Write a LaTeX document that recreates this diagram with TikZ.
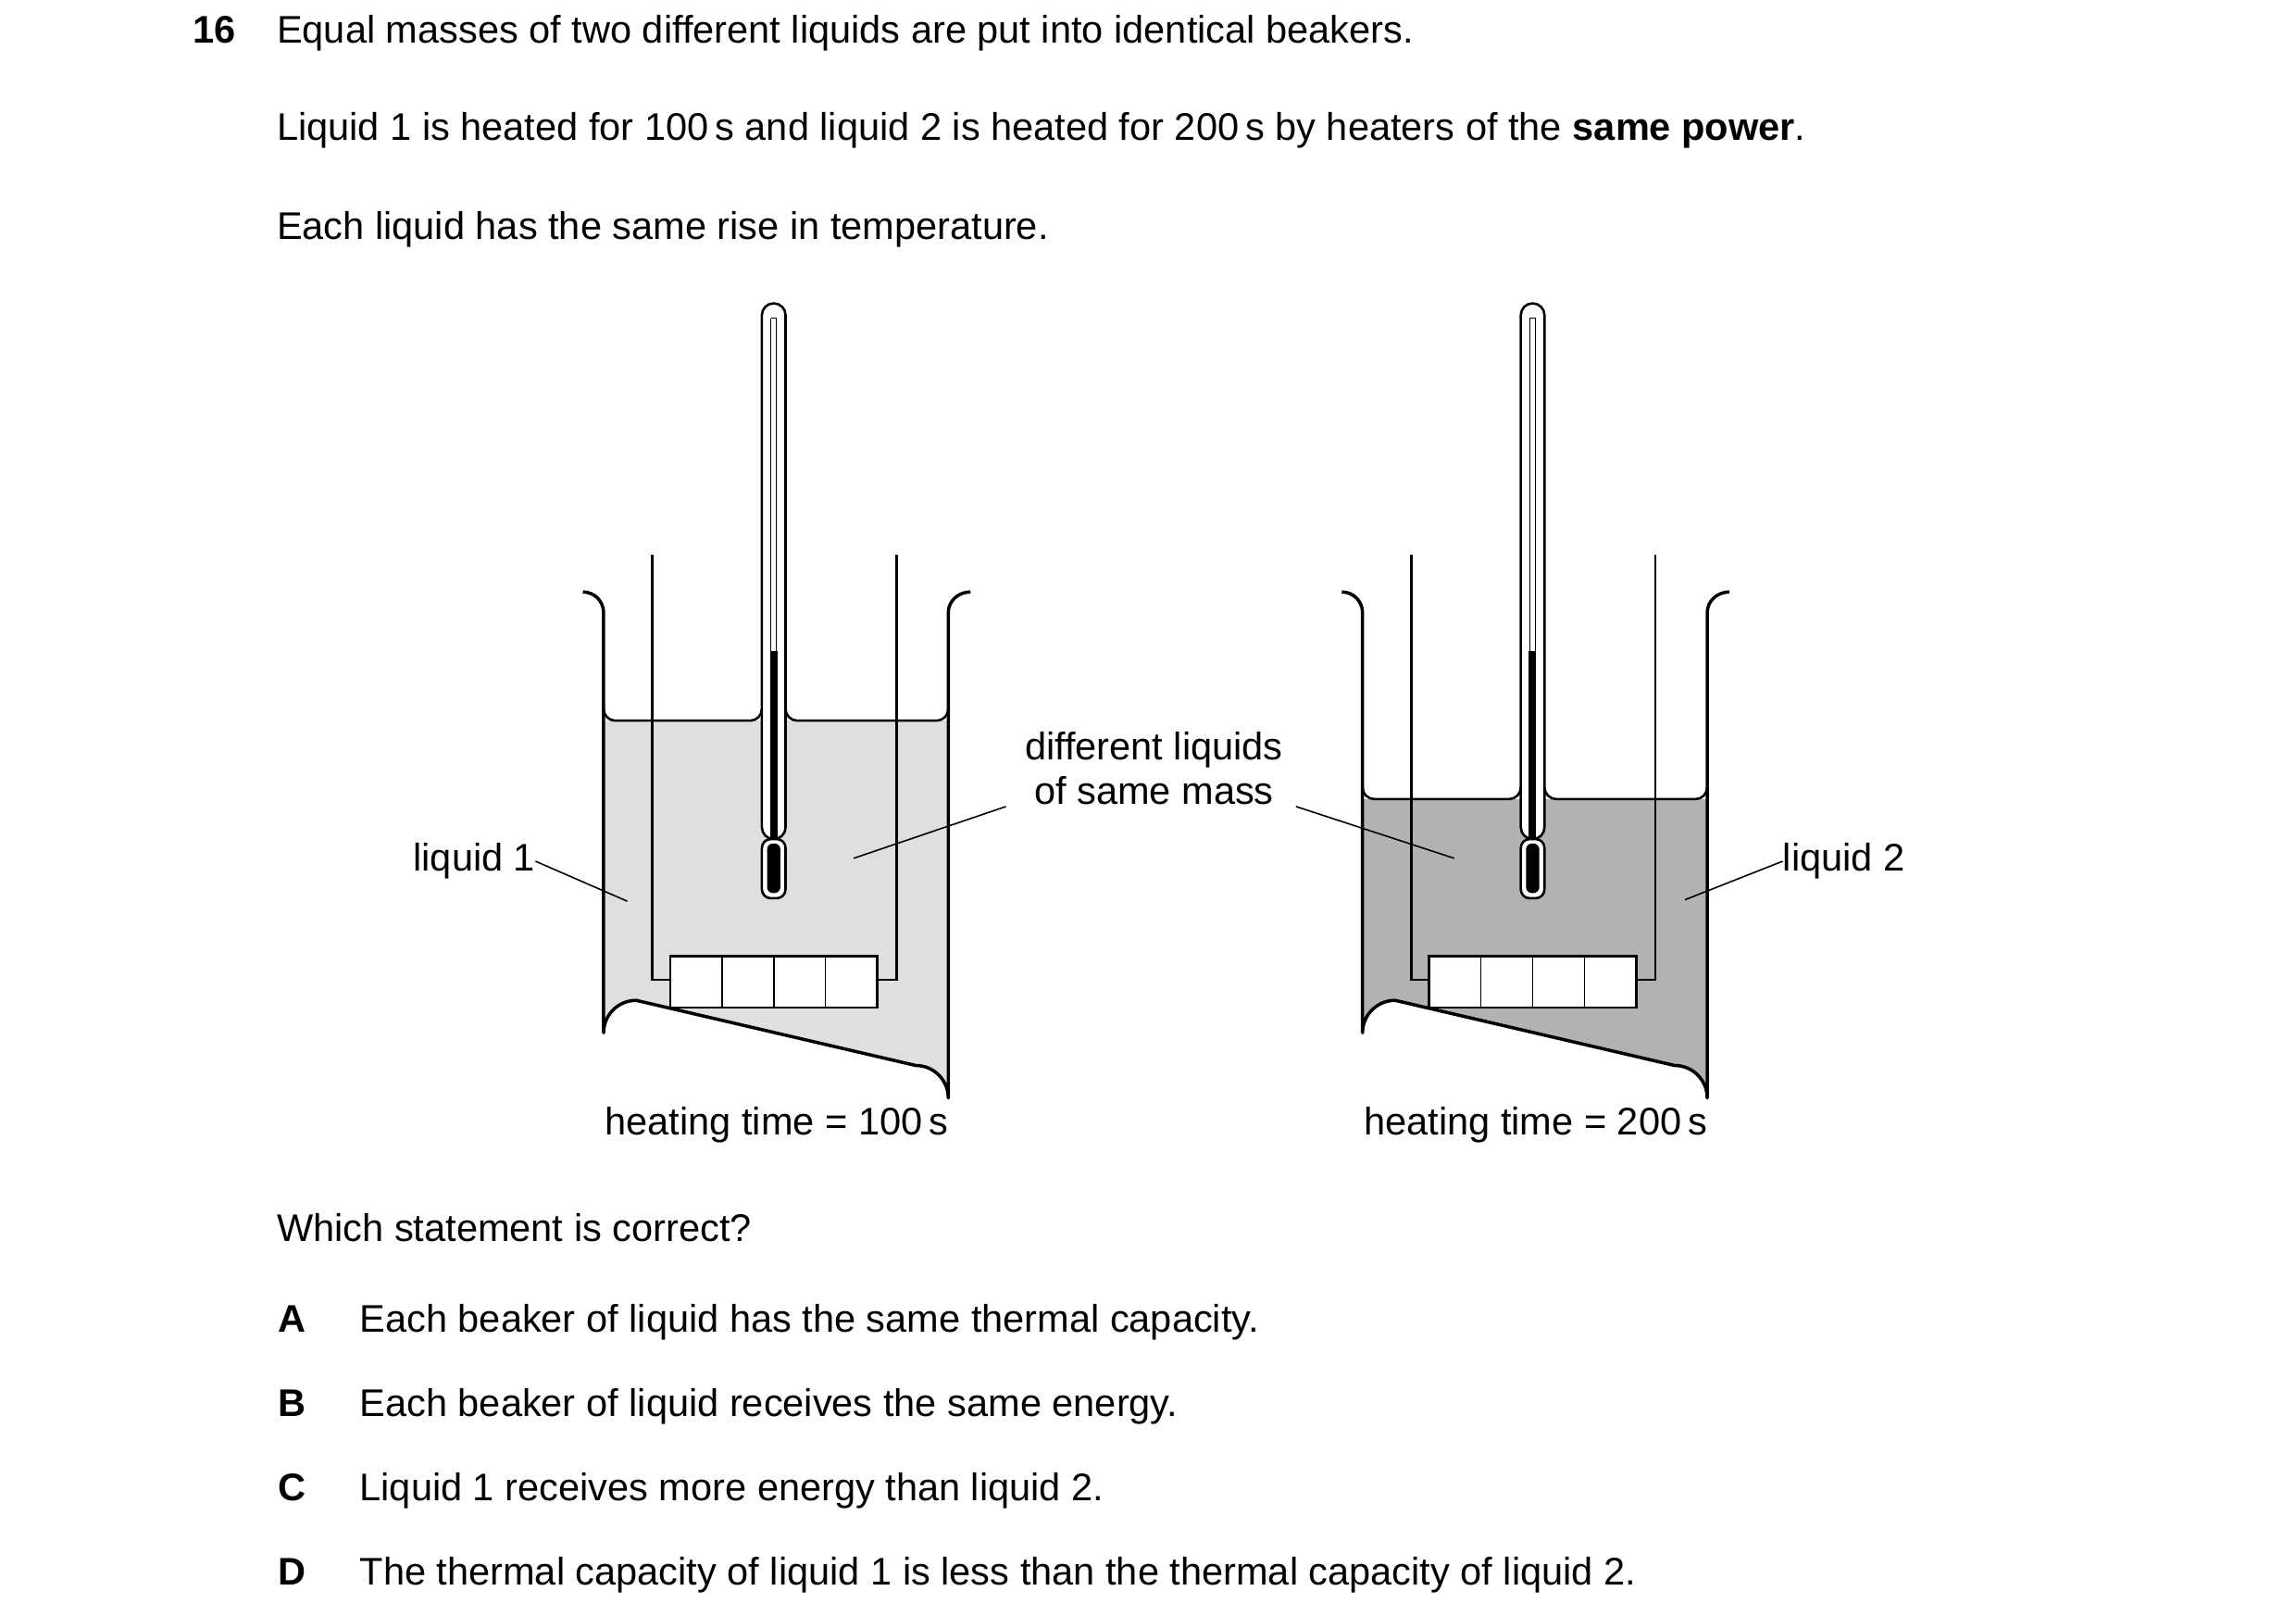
\documentclass[tikz,border=0pt]{standalone}
\usepackage{fontspec}
\setmainfont{Liberation Sans}
\tikzset{
  txt/.style = {anchor=base west, inner sep=0pt, font=\fontsize{26}{30}\selectfont},
  lbl/.style = {inner sep=0pt, font=\fontsize{26}{30}\selectfont},
  wall/.style = {line width=2.2pt, line join=round},
  lead/.style = {line width=1pt},
}
\newcommand{\beaker}[3]{%
  \begin{scope}[xshift=#1]
    \fill[#3] (408,#2) -- (408,698) arc[start angle=180,end angle=270,radius=22] -- (619,720)
      arc[start angle=270,end angle=360,radius=22] -- (641,#2) -- cycle;
    \draw[line width=1.6pt] (408,#2-8) to[out=-90,in=180] (416,#2) -- (507,#2) to[out=0,in=-90] (515,#2-8);
    \draw[line width=1.6pt] (531,#2-8) to[out=-90,in=180] (539,#2) -- (633,#2) to[out=0,in=-90] (641,#2-8);
    \draw[wall] (394,400) to[out=0,in=90] (408,414) -- (408,698) arc[start angle=180,end angle=270,radius=22]
      -- (619,720) arc[start angle=270,end angle=360,radius=22] -- (641,414) to[out=90,in=180] (656,400);
    \draw[line width=1.6pt] (441,375) -- (441,662) -- (453,662);
    \draw[line width=1.6pt] (606,375) -- (606,662) -- (593,662);
    \draw[line width=1.6pt,fill=white] (453,646) rectangle (593,681);
    \foreach \d in {488,523,558} \draw[line width=1pt] (\d,646) -- (\d,681);
    \draw[line width=1.6pt,fill=white,rounded corners=7.9pt] (515,567) rectangle (531,205);
    \draw[line width=0.6pt] (521,215) -- (521,440) (525,215) -- (525,440) (521,215) -- (525,215);
    \fill (520.5,440) rectangle (525.5,567);
    \draw[line width=1.6pt,fill=white,rounded corners=6pt] (515,567) rectangle (531,607);
    \fill[rounded corners=4pt] (518.5,570) rectangle (527.5,603.5);
  \end{scope}}
\begin{document}
\begin{tikzpicture}[x=1pt,y=-1pt]
\useasboundingbox (0,0) rectangle (1552,1092);

\node[txt,font=\fontsize{26}{30}\selectfont\bfseries] (num) at (130,29) {16};
\node[txt] (l1) at (187,29) {Equal masses of two different liquids are put into identical beakers.};
\node[txt] (l2) at (187,95) {Liquid 1 is heated for 100\,s and liquid 2 is heated for 200\,s by heaters of the \textbf{same power}.};
\node[txt] (l3) at (187,162) {Each liquid has the same rise in temperature.};

\beaker{0}{487}{gray!25}
\beaker{513}{540}{gray!60}

\node[lbl,anchor=east] (liq1) at (362,582) {liquid 1};
\node[lbl,anchor=west] (liq2) at (1205,582) {liquid 2};
\node[lbl,align=center] (diff) at (780,519) {different liquids\\of same mass};
\coordinate (p1) at (424,609);
\coordinate (p2) at (577,580);
\coordinate (p3) at (983,580);
\coordinate (p4) at (1139,608);
\draw[lead] (liq1.east) -- (p1);
\draw[lead] (liq2.west) -- (p4);
\draw[lead] (680,545) -- (p2);
\draw[lead] (876,545) -- (p3);

\node[lbl] (t1) at (525,760) {heating time = 100\,s};
\node[lbl] (t2) at (1038,760) {heating time = 200\,s};

\node[txt] (q) at (187,839) {Which statement is correct?};
\foreach \y/\k/\s in {900/A/Each beaker of liquid has the same thermal capacity.,
  957/B/Each beaker of liquid receives the same energy.,
  1014/C/Liquid 1 receives more energy than liquid 2.,
  1071/D/The thermal capacity of liquid 1 is less than the thermal capacity of liquid 2.}{
  \node[txt,font=\fontsize{26}{30}\selectfont\bfseries] at (188,\y) {\k};
  \node[txt] at (243,\y) {\s};
}
\end{tikzpicture}
\end{document}
